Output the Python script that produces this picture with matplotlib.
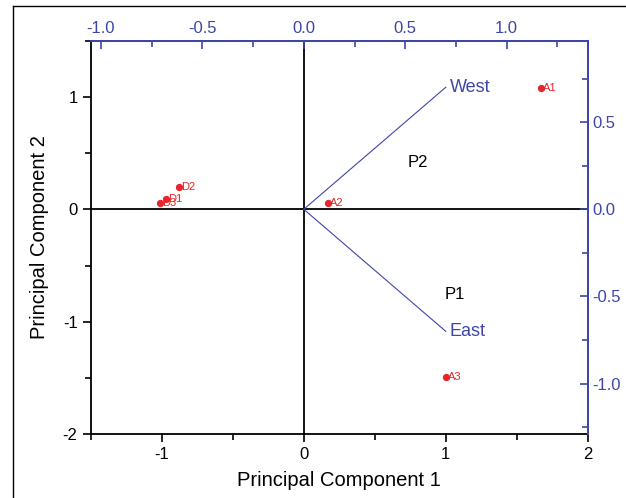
import matplotlib
matplotlib.use('Agg')
import matplotlib.pyplot as plt
from matplotlib.ticker import MultipleLocator
from matplotlib.lines import Line2D

plt.rcParams['font.family'] = ['Liberation Sans', 'DejaVu Sans']
plt.rcParams['axes.unicode_minus'] = False

# scores
sample_names = ['A1', 'A2', 'A3', 'D1', 'D2', 'D3']
pc1_scores = [1.67, 0.17, 1.00, -0.97, -0.88, -1.01]
pc2_scores = [1.08, 0.06, -1.49, 0.09, 0.20, 0.06]

# loadings
var_names = ['West', 'East']
load_x = [0.70, 0.70]
load_y = [0.70, -0.70]

blue = '#3d46a8'
red = '#e5262b'

fig = plt.figure(figsize=(6.26, 4.98), dpi=100)
ax = fig.add_axes([0.145, 0.128, 0.794, 0.790])

ax.set_xlim(-1.5, 2)
ax.set_ylim(-2, 1.5)
ax.axhline(0, color='black', lw=1.3, zorder=1)
ax.axvline(0, color='black', lw=1.3, zorder=1)

ax.scatter(pc1_scores, pc2_scores, s=18, color=red, zorder=3)
for name, x, y in zip(sample_names, pc1_scores, pc2_scores):
    ax.text(x + 0.015, y, name, color=red, fontsize=8, va='center', ha='left', zorder=4)

ax.text(0.80, 0.42, 'P2', fontsize=12, ha='center', va='center')
ax.text(1.06, -0.76, 'P1', fontsize=12, ha='center', va='center')

ax.set_xlabel('Principal Component 1', fontsize=14.5, labelpad=6)
ax.set_ylabel('Principal Component 2', fontsize=14.5, labelpad=10)
ax.xaxis.set_major_locator(MultipleLocator(1))
ax.xaxis.set_minor_locator(MultipleLocator(0.5))
ax.yaxis.set_major_locator(MultipleLocator(1))
ax.yaxis.set_minor_locator(MultipleLocator(0.5))
ax.tick_params(which='both', direction='out', labelsize=12, width=1.2)
ax.tick_params(which='major', length=6)
ax.tick_params(which='minor', length=4)
for s in ['left', 'bottom']:
    ax.spines[s].set_linewidth(1.3)
for s in ['top', 'right']:
    ax.spines[s].set_visible(False)

# loadings on the top/right axes
ax2 = ax.twinx().twiny()
ax2.set_xlim(-1.05, 1.4)
ax2.set_ylim(-1.29, 0.966)
for name, x, y in zip(var_names, load_x, load_y):
    ax2.plot([0, x], [0, y], color=blue, lw=0.8)
    ax2.text(x + 0.02, y, name, color=blue, fontsize=13, va='center', ha='left')

ax2.xaxis.set_major_locator(MultipleLocator(0.5))
ax2.xaxis.set_minor_locator(MultipleLocator(0.25))
ax2.tick_params(axis='x', which='both', direction='in', colors=blue, labelsize=12, width=1.2)
ax2.tick_params(axis='x', which='major', length=6)
ax2.tick_params(axis='x', which='minor', length=4)
ax2.xaxis.set_major_formatter(plt.FormatStrFormatter('%.1f'))

rax = fig.axes[1]
rax.set_ylim(-1.29, 0.966)
rax.yaxis.set_major_locator(MultipleLocator(0.5))
rax.yaxis.set_minor_locator(MultipleLocator(0.25))
rax.yaxis.set_major_formatter(plt.FormatStrFormatter('%.1f'))
rax.tick_params(axis='y', which='both', direction='in', colors=blue, labelsize=12, width=1.2)
rax.tick_params(axis='y', which='major', length=6)
rax.tick_params(axis='y', which='minor', length=4)
for a in [rax, ax2]:
    for s in ['left', 'bottom']:
        a.spines[s].set_visible(False)
    for s in ['top', 'right']:
        a.spines[s].set_color(blue)
        a.spines[s].set_linewidth(1.3)

# frame around the picture
fig.add_artist(Line2D([0.021, 0.021], [0, 0.988], transform=fig.transFigure, color='black', lw=1))
fig.add_artist(Line2D([0.021, 1], [0.988, 0.988], transform=fig.transFigure, color='black', lw=1))

fig.savefig('out.png', dpi=100)
